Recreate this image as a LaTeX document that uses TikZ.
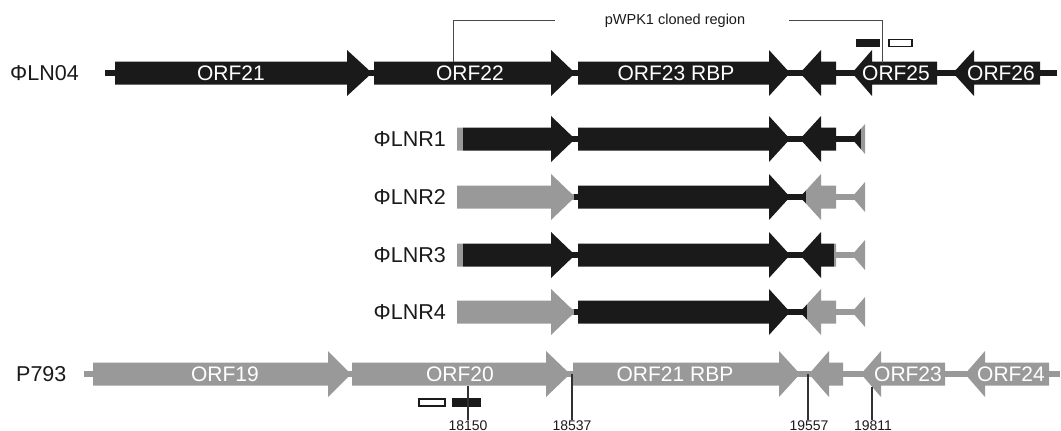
\documentclass[tikz,border=0pt]{standalone}
\usepackage{fontspec}
\setmainfont{Liberation Sans}
\definecolor{ink}{HTML}{1A1A1A}
\definecolor{fade}{HTML}{999999}
\tikzset{
  orflabel/.style={text=white, font=\fontsize{21}{21}\selectfont, inner sep=0pt, anchor=base},
  rowlabel/.style={text=ink, font=\fontsize{21.5}{21.5}\selectfont, inner sep=0pt},
  poslabel/.style={text=ink, font=\fontsize{14}{14}\selectfont, inner sep=0pt, anchor=base},
  cloned/.style={text=ink, font=\fontsize{14.5}{14.5}\selectfont, inner sep=0pt, anchor=base},
  tick/.style={line width=1.2pt, draw=ink!90},
  bracket/.style={line width=0.9pt, draw=ink!80},
  probe/.style={fill=ink},
  probeopen/.style={draw=ink, line width=1.5pt, fill=white},
}
% gene arrows: colour, row centre, start, head base, tip
\newcommand{\fwdgene}[5]{%
  \fill[#1] (#3,#2-11.5) -- (#4,#2-11.5) -- (#4,#2-23) -- (#5,#2)
            -- (#4,#2+23) -- (#4,#2+11.5) -- (#3,#2+11.5) -- cycle;}
% colour, row centre, tip, head base, end
\newcommand{\revgene}[5]{%
  \fill[#1] (#3,#2) -- (#4,#2-23) -- (#4,#2-11.5) -- (#5,#2-11.5)
            -- (#5,#2+11.5) -- (#4,#2+11.5) -- (#4,#2+23) -- cycle;}
% thin genome backbone: colour, row centre, from, to
\newcommand{\spine}[4]{\fill[#1] (#3,#2-3) rectangle (#4,#2+3);}
% the recombinant rows share one gene layout
\newcommand{\lnrrow}[2]{%
  \spine{#1}{#2}{457}{864}%
  \fwdgene{#1}{#2}{457}{551}{575}%
  \fwdgene{#1}{#2}{578}{769}{790}%
  \revgene{#1}{#2}{800}{821}{836}%
  \begin{scope}\clip (840,#2-30) rectangle (865,#2+30);
    \revgene{#1}{#2}{852}{872}{900}\end{scope}}
% one coloured stretch of a recombinant row: colour, row centre, from, to
\newcommand{\lnrpart}[4]{%
  \begin{scope}\clip (#3,#2-30) rectangle (#4,#2+30); \lnrrow{#1}{#2}\end{scope}}

\begin{document}
\begin{tikzpicture}[x=1pt, y=-1pt]
\useasboundingbox (0,0) rectangle (1061,431);

% ---------- phage LN04 ----------
\spine{ink}{73}{105}{1057}
\fwdgene{ink}{73}{115}{347}{372}
\fwdgene{ink}{73}{374}{551}{575}
\fwdgene{ink}{73}{578}{769}{790}
\revgene{ink}{73}{800}{821}{836}
\revgene{ink}{73}{852}{872}{937}
\revgene{ink}{73}{953}{974}{1040}
\node[rowlabel, anchor=base west] (ln04) at (10,80.5) {ΦLN04};
\node[orflabel] (o21) at (231,80.5) {ORF21};
\node[orflabel] (o22) at (470,80.5) {ORF22};
\node[orflabel] (o23) at (676,80.5) {ORF23 RBP};
\node[orflabel] (o25) at (896,80.5) {ORF25};
\node[orflabel] (o26) at (1001,80.5) {ORF26};

% cloned region bracket
\node[cloned] (clone) at (675,24) {pWPK1 cloned region};
\coordinate (cloneL) at (453,62);
\coordinate (cloneLend) at (555,20);
\coordinate (cloneRend) at (789,20);
\coordinate (cloneR) at (882,63);
\draw[bracket] (cloneL) |- (cloneLend);
\draw[bracket] (cloneRend) -| (cloneR);
\fill[probe] (856,39) rectangle (880,47);
\draw[probeopen] (889,39.5) rectangle (912,46.5);

% ---------- recombinants ----------
\lnrpart{fade}{139}{450}{463}
\lnrpart{ink}{139}{463}{861}
\lnrpart{fade}{139}{861}{870}
\node[rowlabel, anchor=base east] (lnr1) at (446,146.5) {ΦLNR1};

\lnrpart{fade}{197}{450}{574}
\lnrpart{ink}{197}{574}{806}
\lnrpart{fade}{197}{806}{870}
\node[rowlabel, anchor=base east] (lnr2) at (446,204.5) {ΦLNR2};

\lnrpart{fade}{255}{450}{463}
\lnrpart{ink}{255}{463}{834}
\lnrpart{fade}{255}{834}{870}
\node[rowlabel, anchor=base east] (lnr3) at (446,262.5) {ΦLNR3};

\lnrpart{fade}{312}{450}{574}
\lnrpart{ink}{312}{574}{807}
\lnrpart{fade}{312}{807}{870}
\node[rowlabel, anchor=base east] (lnr4) at (446,319.5) {ΦLNR4};

% ---------- phage P793 ----------
\spine{fade}{374}{84}{1060}
\fwdgene{fade}{374}{93}{328}{351}
\fwdgene{fade}{374}{352}{546}{570}
\fwdgene{fade}{374}{573}{779}{800}
\revgene{fade}{374}{809}{829}{843}
\revgene{fade}{374}{861}{881}{945}
\revgene{fade}{374}{965}{985}{1049}
\node[rowlabel, anchor=base west] (p793) at (16,381.5) {P793};
\node[orflabel] (p19) at (225,381.5) {ORF19};
\node[orflabel] (p20) at (460,381.5) {ORF20};
\node[orflabel] (p21) at (675,381.5) {ORF21 RBP};
\node[orflabel] (p23) at (908,381.5) {ORF23};
\node[orflabel] (p24) at (1011,381.5) {ORF24};

% probes and sequence positions
\draw[probeopen] (419,399) rectangle (445,406);
\fill[probe] (452,398) rectangle (481,407);
\node[poslabel] (n18150) at (468,430) {18150};
\node[poslabel] (n18537) at (572,430) {18537};
\node[poslabel] (n19557) at (809,430) {19557};
\node[poslabel] (n19811) at (873,430) {19811};
\coordinate (c18150) at (468,386);
\coordinate (c18537) at (572,374);
\coordinate (c19557) at (808,374);
\coordinate (c19811) at (872,387);
\draw[tick] (c18150) -- (c18150 |- n18150.north);
\draw[tick] (c18537) -- (c18537 |- n18537.north);
\draw[tick] (c19557) -- (c19557 |- n19557.north);
\draw[tick] (c19811) -- (c19811 |- n19811.north);
\end{tikzpicture}
\end{document}
